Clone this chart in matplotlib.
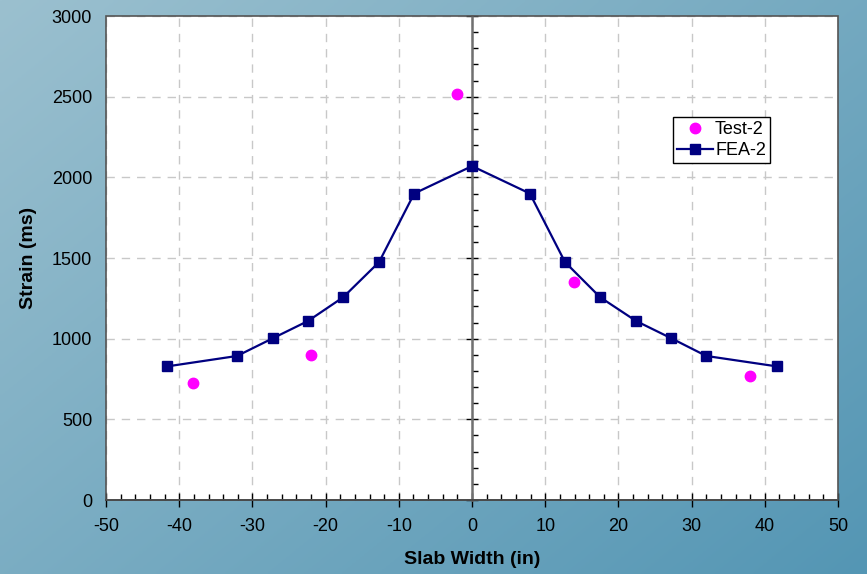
import numpy as np
import matplotlib.pyplot as plt
from matplotlib.patches import Rectangle
from matplotlib.ticker import MultipleLocator

plt.rcParams["font.family"] = ["Liberation Sans", "DejaVu Sans"]
plt.rcParams["axes.unicode_minus"] = False

# measured strain across the slab width
test_x = [-38.1, -22.0, -2.0, 13.9, 38.0]
test_y = [723, 901, 2520, 1351, 770]

# finite element prediction
fea_x = [-41.7, -32.1, -27.2, -22.4, -17.6, -12.7, -7.9, 0.0,
         7.9, 12.7, 17.5, 22.4, 27.2, 32.0, 41.7]
fea_y = [828, 893, 1003, 1110, 1257, 1475, 1900, 2070,
         1900, 1475, 1257, 1110, 1003, 893, 828]

fig = plt.figure(figsize=(8.67, 5.74), dpi=100)

# blue gradient backdrop, lighter towards the top-left
bg = fig.add_axes([0, 0, 1, 1], zorder=-10)
gx, gy = np.meshgrid(np.linspace(0, 1, 200), np.linspace(0, 1, 200))
t = 0.55 * gx + 0.45 * gy
c0 = np.array([155, 192, 207]) / 255
c1 = np.array([84, 150, 180]) / 255
img = c0[None, None, :] * (1 - t[..., None]) + c1[None, None, :] * t[..., None]
bg.imshow(img, aspect="auto", extent=[0, 1, 0, 1], origin="upper")
bg.axis("off")

ax = fig.add_axes([0.1223, 0.1289, 0.8443, 0.8431])
ax.set_facecolor("white")

ax.plot(fea_x, fea_y, color="#000080", lw=1.6, marker="s", ms=7.5,
        label="FEA-2", zorder=4)
ax.plot(test_x, test_y, ls="none", marker="o", ms=7.5, color="#ff00ff",
        label="Test-2", zorder=5)

ax.set_xlim(-50, 50)
ax.set_ylim(0, 3000)
ax.xaxis.set_major_locator(MultipleLocator(10))
ax.xaxis.set_minor_locator(MultipleLocator(2))
ax.yaxis.set_major_locator(MultipleLocator(500))
ax.yaxis.set_minor_locator(MultipleLocator(100))

ax.grid(True, which="major", color="#c8c8c8", ls=(0, (6, 5)), lw=1)
ax.set_axisbelow(True)

# vertical axis line crosses at x = 0, labels stay at the left edge
for s in ("top", "left"):
    ax.spines[s].set_visible(False)
ax.spines["right"].set_position(("data", 0))
ax.spines["right"].set_color("#707070")
ax.spines["right"].set_linewidth(1.8)
ax.spines["bottom"].set_color("black")
ax.spines["bottom"].set_linewidth(1.2)
ax.add_patch(Rectangle((0, 0), 1, 1, transform=ax.transAxes, fill=False,
                       ec="#555555", lw=1.2, clip_on=False, zorder=6))

ax.tick_params(axis="y", which="both", left=False, right=True,
               labelleft=True, labelright=False, colors="#000000",
               labelsize=13)
ax.tick_params(axis="y", which="major", direction="inout", length=8,
               width=1, pad=6)
ax.tick_params(axis="y", which="minor", direction="out", length=4, width=1)
ax.tick_params(axis="x", which="major", direction="inout", length=10,
               width=1, labelsize=13, pad=8)
ax.tick_params(axis="x", which="minor", direction="in", length=4, width=1)

ax.set_xlabel("Slab Width (in)", fontsize=14, fontweight="bold")
ax.xaxis.set_label_coords(0.5, -0.105)
ax.set_ylabel("Strain (ms)", fontsize=14, fontweight="bold")
ax.yaxis.set_label_coords(-0.094, 0.5)

handles, labels = ax.get_legend_handles_labels()
leg = ax.legend(handles[::-1], labels[::-1], loc="upper left",
                bbox_to_anchor=(0.774, 0.792), fontsize=13, frameon=True,
                fancybox=False, edgecolor="black", framealpha=1,
                borderpad=0.25, handlelength=2.0, handletextpad=0.1,
                labelspacing=0.2, borderaxespad=0)
leg.get_frame().set_linewidth(1)

fig.savefig("out.png", dpi=100)
